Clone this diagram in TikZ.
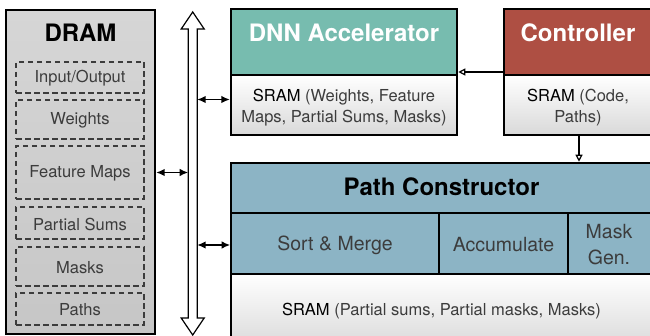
\documentclass[tikz,border=0pt]{standalone}
\usepackage{fontspec}
\setmainfont{TeX Gyre Heros}
\usetikzlibrary{arrows.meta}

\definecolor{accteal}{HTML}{77BCAF}
\definecolor{ctrlred}{HTML}{AE4F43}
\definecolor{pathblue}{HTML}{8CB4C5}
\definecolor{dramtop}{HTML}{D6D6D6}
\definecolor{drambot}{HTML}{C6C6C6}
\definecolor{sramgray}{HTML}{D9D9D9}
\definecolor{txtgray}{HTML}{3C3C3C}

\tikzset{
  part/.style={draw=black, line width=2.2pt, inner sep=0pt, outer sep=0pt, anchor=north west},
  cell/.style={draw=black, line width=1.5pt, inner sep=0pt, outer sep=0pt, anchor=north west, fill=pathblue},
  frame/.style={draw=black, line width=2.4pt},
  slot/.style={draw=txtgray, line width=1.1pt, dash pattern=on 5.5pt off 3.5pt, inner sep=0pt, outer sep=0pt,
    anchor=north west, minimum width=128pt, text=txtgray, font=\fontsize{17}{20}\selectfont},
  sram/.style={top color=white, bottom color=sramgray},
  title/.style={font=\fontsize{24}{28}\selectfont\bfseries},
  label/.style={font=\fontsize{16.5}{21}\selectfont, text=txtgray, align=center},
  cellfont/.style={font=\fontsize{19.5}{26}\selectfont, text=txtgray, align=center},
  dbl/.style={line width=1.5pt, {Latex[length=8.5pt,width=7.5pt]}-{Latex[length=8.5pt,width=7.5pt]}},
  ctl/.style={line width=1.2pt, -{Triangle[open, length=7pt, width=7pt]}},
}

\newcommand{\sramword}{\textcolor{black}{SRAM}}

\begin{document}
\begin{tikzpicture}[x=1pt, y=-1pt]
\useasboundingbox (0,0) rectangle (650,336);
\clip (0,0) rectangle (650,336);

% ---------------- DRAM ----------------
\node[part, line width=2.4pt, top color=dramtop, bottom color=drambot,
      minimum width=149pt, minimum height=324pt] (dram) at (6,10) {};
\node[title] (dramtitle) at (80.5,33) {DRAM};
\node[slot, minimum height=31pt] (io)   at (16,62)  {};
\node[slot, minimum height=39pt] (wts)  at (16,100) {};
\node[slot, minimum height=53pt] (fm)   at (16,146) {};
\node[slot, minimum height=32pt] (ps)   at (16,207) {};
\node[slot, minimum height=39pt] (msk)  at (16,247) {};
\node[slot, minimum height=32pt] (pth)  at (16,293) {};
\node[label] (iot)  at ([yshift=-1pt]io.center)  {Input/Output};
\node[label] (wtst) at ([yshift=-1pt]wts.center) {Weights};
\node[label] (fmt)  at ([yshift=-1pt]fm.center)  {Feature Maps};
\node[label] (pst)  at ([yshift=-1pt]ps.center)  {Partial Sums};
\node[label] (mskt) at ([yshift=-1pt]msk.center) {Masks};
\node[label] (ptht) at ([yshift=-1pt]pth.center) {Paths};

% ---------------- Bus ----------------
\draw[line width=1.2pt, fill=white]
  (192.7,12) -- (204.2,29) -- (197.2,29) -- (197.2,318) -- (204.2,318) -- (192.7,335)
  -- (181.2,318) -- (188.2,318) -- (188.2,29) -- (181.2,29) -- cycle;
\node[inner sep=0pt, outer sep=0pt, minimum width=9pt, minimum height=289pt] (bus) at (192.7,173.5) {};

% ---------------- DNN Accelerator ----------------
\node[part, fill=accteal, minimum width=226pt, minimum height=66pt] (dnnhead) at (231,9) {};
\node[part, sram, minimum width=226pt, minimum height=60pt] (dnnsram) at (231,75) {};
\node[title, text=white] (dnntitle) at (344,33) {DNN Accelerator};
\node[label] (dnnsramt) at (344,107.5) {\sramword{} (Weights, Feature\\Maps, Partial Sums, Masks)};

% ---------------- Controller ----------------
\node[part, fill=ctrlred, minimum width=150pt, minimum height=66pt] (ctrlhead) at (504,9) {};
\node[part, sram, minimum width=150pt, minimum height=60pt] (ctrlsram) at (504,75) {};
\node[title, text=white] (ctrltitle) at (578,33) {Controller};
\node[label] (ctrlsramt) at (578,107.5) {\sramword{} (Code,\\Paths)};

% ---------------- Path Constructor ----------------
\node[cell, minimum width=421pt, minimum height=50pt] (pathhead) at (231,163) {};
\node[cell, minimum width=208pt, minimum height=61pt] (sortmerge) at (231,213) {};
\node[cell, minimum width=129pt, minimum height=61pt] (accum) at (439,213) {};
\node[cell, minimum width=84pt, minimum height=61pt] (maskgen) at (568,213) {};
\node[cell, sram, minimum width=421pt, minimum height=75pt] (pathsram) at (231,274) {};
\draw[frame] (pathhead.north west) rectangle (pathsram.south east);
\node[title] (pathtitle) at (441.5,187) {Path Constructor};
\node[cellfont] (smt) at (335,245) {Sort \& Merge};
\node[cellfont] (acct) at (503.5,245) {Accumulate};
\node[cellfont] (mgt) at (609,245) {Mask\\Gen.};
\node[label] (pathsramt) at (441.5,311.5) {\sramword{} (Partial sums, Partial masks, Masks)};

% ---------------- Connectors ----------------
\draw[dbl, shorten <=1.2pt] (dram.east |- fm.east) -- (bus.west |- fm.east);
\draw[dbl, shorten >=1.1pt] ([yshift=5.5pt]bus.east |- dnnsram.west) -- ([yshift=5.5pt]dnnsram.west);
\draw[dbl, shorten >=0.8pt] ([yshift=-1.5pt]bus.east |- sortmerge.west) -- ([yshift=-1.5pt]sortmerge.west);
\draw[ctl, shorten <=1.1pt, shorten >=1.3pt] ([yshift=3pt]ctrlhead.south west) -- ([yshift=3pt]dnnhead.south east);
\draw[ctl, shorten <=1.1pt, shorten >=1.3pt] (ctrlsram.south) -- (ctrlsram.south |- pathhead.north);
\end{tikzpicture}
\end{document}
